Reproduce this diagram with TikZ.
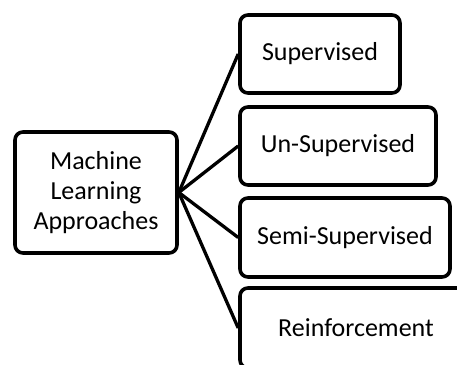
\documentclass[tikz,border=0pt]{standalone}
\usepackage{fontspec}
\setmainfont{Carlito}
\begin{document}
\begin{tikzpicture}[x=1pt,y=1pt,
    box/.style={draw,line width=3.6pt,rounded corners=8pt,align=center,
      inner sep=0pt,font=\fontsize{26}{30}\selectfont},
    link/.style={line width=3.3pt}]
  \clip (0.0,0.0) rectangle (457.0,364.0);
  \node[box,minimum width=162,minimum height=121] (ml) at (96.0,171.5)
    {Machine\\Learning\\Approaches};
  \node[box,minimum width=160,minimum height=78] (sup) at (320.0,310.0) {Supervised};
  \node[box,minimum width=196,minimum height=78] (unsup) at (338.0,218.0) {Un-Supervised};
  \node[box,minimum width=210,minimum height=79] (semi) at (345.0,126.5) {Semi-Supervised};
  \node[box,minimum width=232,minimum height=80] (reinf) at (356.0,36.0) {Reinforcement};
  \foreach \t in {sup,unsup,semi,reinf} {
    \draw[link] (ml.east) -- (\t.west);
  }
\end{tikzpicture}
\end{document}
